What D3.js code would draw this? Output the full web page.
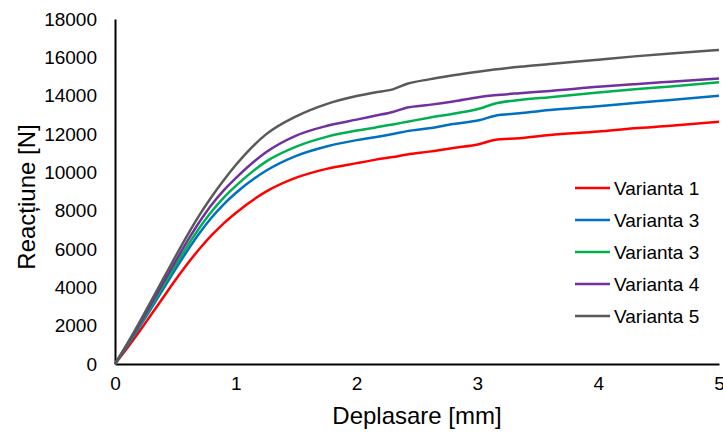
<!DOCTYPE html>
<html>
<head>
<meta charset="utf-8">
<script src="https://cdn.jsdelivr.net/npm/d3@7"></script>
<style>
  body { margin: 0; background: #fff; }
  svg { font-family: Arial, "Liberation Sans", sans-serif; }
</style>
</head>
<body>
<div id="chart"></div>
<script>
// valori
const deplasare = [0, 0.1, 0.2, 0.3, 0.4, 0.5, 0.6, 0.7, 0.8, 0.9, 1.0, 1.25, 1.5, 1.75, 2.0, 2.15, 2.3, 2.42, 2.6, 2.8, 3.02, 3.14, 3.35, 3.6, 4.0, 4.3, 4.6, 5.0];

const varianta1 = [0, 820, 1680, 2580, 3480, 4380, 5230, 6010, 6720, 7340, 7880, 8990, 9720, 10180, 10480, 10650, 10800, 10930, 11080, 11270, 11480, 11690, 11780, 11950, 12130, 12300, 12430, 12640];
const varianta2 = [0, 930, 1900, 2900, 3920, 4940, 5920, 6830, 7640, 8330, 8920, 10080, 10860, 11350, 11680, 11830, 12000, 12150, 12300, 12520, 12730, 12940, 13080, 13250, 13450, 13620, 13780, 14000];
const varianta3 = [0, 970, 1980, 3020, 4080, 5140, 6160, 7110, 7960, 8680, 9290, 10560, 11340, 11850, 12180, 12330, 12500, 12640, 12850, 13060, 13330, 13580, 13770, 13920, 14160, 14330, 14480, 14700];
const varianta4 = [0, 1010, 2060, 3140, 4240, 5350, 6420, 7420, 8310, 9060, 9700, 11050, 11920, 12420, 12750, 12950, 13150, 13380, 13520, 13700, 13930, 14020, 14130, 14240, 14460, 14600, 14730, 14900];
const varianta5 = [0, 1050, 2150, 3290, 4450, 5610, 6730, 7780, 8730, 9590, 10380, 11980, 12920, 13560, 13980, 14170, 14330, 14620, 14850, 15060, 15260, 15360, 15510, 15650, 15880, 16050, 16200, 16380];

const numeSerii = ['Varianta 1', 'Varianta 3', 'Varianta 3', 'Varianta 4', 'Varianta 5'];
const culori = ['#FF0000', '#0070C0', '#00B050', '#7030A0', '#595959'];
const xTicks = [0, 1, 2, 3, 4, 5];
const yTicks = [0, 2000, 4000, 6000, 8000, 10000, 12000, 14000, 16000, 18000];

const serii = [varianta1, varianta2, varianta3, varianta4, varianta5];

const width = 723, height = 433;
const margin = { left: 115, right: 4, top: 19, bottom: 69 };

const svg = d3.select('#chart').append('svg').attr('width', width).attr('height', height);

const x = d3.scaleLinear().domain([0, 5]).range([margin.left, width - margin.right]);
const y = d3.scaleLinear().domain([0, 18000]).range([height - margin.bottom, margin.top]);

// axa Y
const yAxis = svg.append('g')
  .attr('transform', `translate(${margin.left},0)`)
  .call(d3.axisLeft(y).tickValues(yTicks).tickSize(0).tickPadding(18).tickFormat(d3.format('d')));
yAxis.select('.domain').attr('stroke', '#000').attr('stroke-width', 2);
yAxis.selectAll('text').attr('font-size', 19).attr('fill', '#000');

// axa X
const xAxis = svg.append('g')
  .attr('transform', `translate(0,${y(0)})`)
  .call(d3.axisBottom(x).tickValues(xTicks).tickSize(0).tickPadding(13).tickFormat(d3.format('d')));
xAxis.select('.domain').attr('stroke', '#000').attr('stroke-width', 2);
xAxis.selectAll('text').attr('font-size', 19).attr('fill', '#000');

// curbele
const line = d3.line()
  .x((d, i) => x(deplasare[i]))
  .y(d => y(d))
  .curve(d3.curveMonotoneX);

svg.selectAll('path.serie')
  .data(serii)
  .enter()
  .append('path')
  .attr('class', 'serie')
  .attr('fill', 'none')
  .attr('stroke', (d, i) => culori[i])
  .attr('stroke-width', 2.5)
  .attr('d', line);

// titluri axe
svg.append('text')
  .attr('x', (margin.left + width - margin.right) / 2)
  .attr('y', 424)
  .attr('text-anchor', 'middle')
  .attr('font-size', 24)
  .attr('fill', '#000')
  .text('Deplasare [mm]');

svg.append('text')
  .attr('transform', 'translate(35,197) rotate(-90)')
  .attr('text-anchor', 'middle')
  .attr('font-size', 24)
  .attr('fill', '#000')
  .text('Reacțiune [N]');

// legenda
const legend = svg.append('g').attr('transform', 'translate(575,188)');
const item = legend.selectAll('g')
  .data(numeSerii)
  .enter()
  .append('g')
  .attr('transform', (d, i) => `translate(0,${i * 32})`);
item.append('line')
  .attr('x1', 0).attr('x2', 35)
  .attr('stroke', (d, i) => culori[i])
  .attr('stroke-width', 2.5);
item.append('text')
  .attr('x', 39)
  .attr('dy', '0.35em')
  .attr('font-size', 19)
  .attr('fill', '#000')
  .text(d => d);
</script>
</body>
</html>
